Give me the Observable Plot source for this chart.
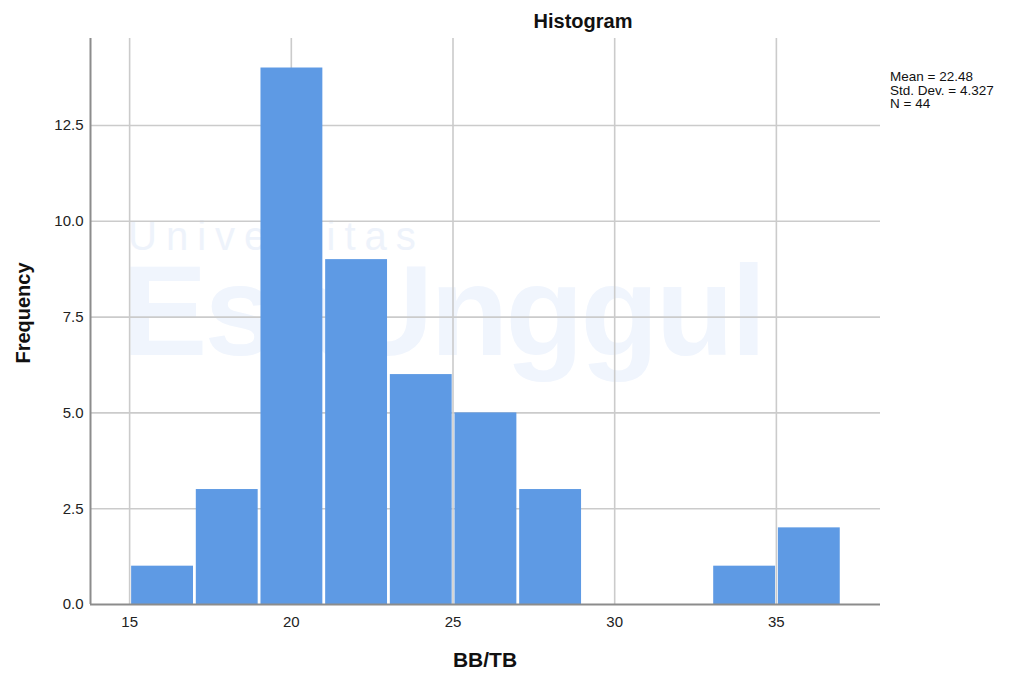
<!DOCTYPE html>
<html>
<head>
<meta charset="utf-8">
<script src="https://cdn.jsdelivr.net/npm/d3@7"></script>
<script src="https://cdn.jsdelivr.net/npm/@observablehq/plot@0.6"></script>
<style>
  html, body { margin: 0; padding: 0; background: #fff; }
  #wrap { position: relative; width: 1014px; height: 677px; overflow: hidden; font-family: "Liberation Sans", Arial, sans-serif; }
  #wm1 { position: absolute; left: 128px; top: 220px; font-size: 40px; line-height: 32px; letter-spacing: 9px; color: #eef3fb; white-space: nowrap; }
  #wm2 { position: absolute; left: 122px; top: 263px; font-size: 128px; line-height: 96px; font-weight: bold; color: #f0f5fd; letter-spacing: -3px; white-space: nowrap; }
  #chart { position: absolute; left: 0; top: 0; }
</style>
</head>
<body>
<div id="wrap">
  <div id="wm1">Universitas</div>
  <div id="wm2">EsaUnggul</div>
  <div id="chart"></div>
</div>
<script>
// Data: SPSS histogram of BB/TB, bins of width 2
const binStarts = [15, 17, 19, 21, 23, 25, 27, 29, 31, 33, 35];
const binEnds   = [17, 19, 21, 23, 25, 27, 29, 31, 33, 35, 37];
const counts    = [1, 3, 14, 9, 6, 5, 3, 0, 0, 1, 2];
const xTicks = [15, 20, 25, 30, 35];
const yTicks = [0, 2.5, 5, 7.5, 10, 12.5];
const statsLines = ["Mean = 22.48", "Std. Dev. = 4.327", "N = 44"];
const titleText = "Histogram";
const xLabel = "BB/TB";
const yLabel = "Frequency";

const bins = binStarts.map((s, i) => ({x0: s, x1: binEnds[i], count: counts[i]})).filter(d => d.count > 0);

const xDomain = [13.79, 38.22];
const yDomain = [0, 14.77];

const plot = Plot.plot({
  width: 1014,
  height: 677,
  marginLeft: 90,
  marginRight: 134,
  marginTop: 38,
  marginBottom: 73,
  style: {background: "transparent", fontFamily: "'Liberation Sans', Arial, sans-serif", fontSize: "15px", color: "#222"},
  x: {domain: xDomain},
  y: {domain: yDomain},
  marks: [
    Plot.gridX(xTicks, {stroke: "#cbcbcb", strokeOpacity: 1, strokeWidth: 1.6}),
    Plot.gridY(yTicks.filter(d => d > 0), {stroke: "#cbcbcb", strokeOpacity: 1, strokeWidth: 1.6}),
    Plot.rectY(bins, {x1: "x0", x2: "x1", y: "count", fill: "#5e9ae4", insetLeft: 2, insetRight: 0.8}),
    Plot.ruleX([xDomain[0]], {stroke: "#8c8c8c", strokeWidth: 2}),
    Plot.ruleY([0], {stroke: "#8c8c8c", strokeWidth: 2}),
    Plot.axisX(xTicks, {tickSize: 0, tickPadding: 12, label: null, fontSize: 15, fill: "#222"}),
    Plot.axisY(yTicks, {tickSize: 0, tickPadding: 7, label: null, tickFormat: d3.format(".1f"), fontSize: 15, fill: "#222"})
  ]
});

document.getElementById("chart").appendChild(plot);

const svg = d3.select(plot);
const xs = plot.scale("x");
const ys = plot.scale("y");
const xMid = (xs.range[0] + xs.range[1]) / 2;
const yMid = (ys.range[0] + ys.range[1]) / 2;

svg.append("text")
  .attr("x", 583).attr("y", 28)
  .attr("text-anchor", "middle")
  .attr("font-size", 20).attr("font-weight", "bold").attr("fill", "#111")
  .text(titleText);

svg.append("text")
  .attr("x", xMid).attr("y", 667)
  .attr("text-anchor", "middle")
  .attr("font-size", 21).attr("font-weight", "bold").attr("fill", "#111")
  .text(xLabel);

svg.append("text")
  .attr("transform", `translate(30,${yMid - 8}) rotate(-90)`)
  .attr("text-anchor", "middle")
  .attr("font-size", 20).attr("font-weight", "bold").attr("fill", "#111")
  .text(yLabel);

statsLines.forEach((l, i) => {
  svg.append("text")
    .attr("x", 890).attr("y", 81 + i * 13.5)
    .attr("text-anchor", "start")
    .attr("font-size", 13.5).attr("fill", "#111")
    .text(l);
});
</script>
</body>
</html>
